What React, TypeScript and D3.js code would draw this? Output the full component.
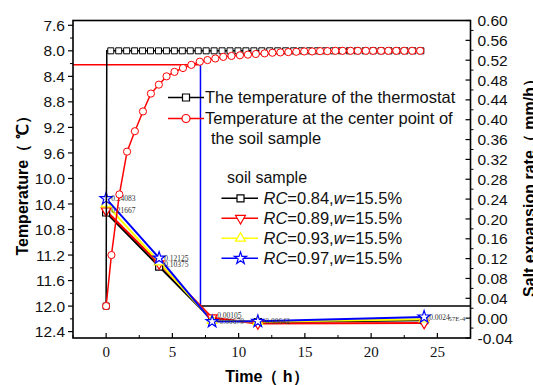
import React from "react";
import * as d3 from "d3";

// ---- data ----
const thermoTime = [0, 0.05, 0.35, 0.95, 1.55, 2.15, 2.75, 3.35, 3.95, 4.55, 5.15, 5.75, 6.35, 6.95, 7.55, 8.15, 8.75, 9.35, 9.95, 10.55, 11.15, 11.75, 12.35, 12.95, 13.55, 14.15, 14.75, 15.35, 15.95, 16.55, 17.15, 17.75, 18.35, 18.95, 19.55, 20.15, 20.75, 21.35, 21.95, 22.55, 23.15, 23.75];
const thermoTemp = [12.0, 8.0, 8.0, 8.0, 8.0, 8.0, 8.0, 8.0, 8.0, 8.0, 8.0, 8.0, 8.0, 8.0, 8.0, 8.0, 8.0, 8.0, 8.0, 8.0, 8.0, 8.0, 8.0, 8.0, 8.0, 8.0, 8.0, 8.0, 8.0, 8.0, 8.0, 8.0, 8.0, 8.0, 8.0, 8.0, 8.0, 8.0, 8.0, 8.0, 8.0, 8.0];

const centerTime = [0, 0.4, 1.0, 1.58, 2.17, 2.78, 3.38, 3.98, 4.56, 5.16, 5.8, 6.43, 7.07, 7.65, 8.24, 8.84, 9.46, 10.1, 10.7, 11.3, 11.96, 12.55, 13.15, 13.75, 14.35, 14.95, 15.55, 16.15, 16.7, 17.3, 17.85, 18.45, 19.0, 19.6, 20.15, 20.75, 21.3, 21.9, 22.5, 23.1, 23.7];
const centerTemp = [12.0, 11.2, 10.25, 9.58, 9.26, 8.95, 8.67, 8.53, 8.4, 8.33, 8.27, 8.22, 8.17, 8.145, 8.12, 8.095, 8.08, 8.07, 8.06, 8.05, 8.04, 8.03, 8.025, 8.02, 8.015, 8.01, 8.01, 8.005, 8.005, 8.0, 8.0, 8.0, 8.0, 8.0, 8.0, 8.0, 8.0, 8.0, 8.0, 8.0, 8.0];

const saltTime = [0, 4, 8, 11.45, 24];
const rc084 = [0.213, 0.104, -0.004, -0.008, -0.004];
const rc089 = [0.21667, 0.11, 0.00105, -0.011, -0.01];
const rc093 = [0.23, 0.113, -0.005, -0.007, -0.002];
const rc097 = [0.24083, 0.12125, -0.00679, -0.00642, 0.0024];

const guideTime = 7.12;
const guideTemp = [8.22, 12.0];

const leftTicks = [7.6, 8.0, 8.4, 8.8, 9.2, 9.6, 10.0, 10.4, 10.8, 11.2, 11.6, 12.0, 12.4];
const rightTicks = [-0.04, 0.0, 0.04, 0.08, 0.12, 0.16, 0.2, 0.24, 0.28, 0.32, 0.36, 0.4, 0.44, 0.48, 0.52, 0.56, 0.6];
const xTicks = [0, 5, 10, 15, 20, 25];

const legendRC = ["0.84", "0.89", "0.93", "0.97"];
const legendW = "15.5%";

// ---- layout ----
const L = 73, R = 470.5, T = 20.5, B = 338;
const x = d3.scaleLinear().domain([-2.5, 27.5]).range([L, R]);
const yL = d3.scaleLinear().domain([7.525, 12.5]).range([T, B]);
const yR = d3.scaleLinear().domain([-0.04, 0.6]).range([B, T]);

const SANS = "'Liberation Sans', Arial, sans-serif";
const SERIF = "'Liberation Serif', 'Times New Roman', serif";

const sym = (type: any, size: number) => d3.symbol().type(type).size(size)() as string;
const squarePath = sym(d3.symbolSquare, 36);
const squareBig = sym(d3.symbolSquare, 49);
const triPath = sym(d3.symbolTriangle, 42);
const starPath = sym(d3.symbolStar, 46);

function Marker({ kind, cx, cy, color }: { kind: string; cx: number; cy: number; color: string }) {
  if (kind === "square")
    return <path d={squareBig} transform={`translate(${cx},${cy})`} fill="white" stroke={color} strokeWidth={1.2} />;
  if (kind === "down")
    return <path d={triPath} transform={`translate(${cx},${cy}) rotate(180)`} fill="white" stroke={color} strokeWidth={1.2} />;
  if (kind === "up")
    return <path d={triPath} transform={`translate(${cx},${cy})`} fill="white" stroke={color} strokeWidth={1.2} />;
  return <path d={starPath} transform={`translate(${cx},${cy})`} fill="white" stroke={color} strokeWidth={1.2} />;
}

export default function App() {
  const lineT = d3.line<[number, number]>().x((d) => x(d[0])).y((d) => yL(d[1]));
  const lineR = d3.line<[number, number]>().x((d) => x(d[0])).y((d) => yR(d[1]));

  const salt = [
    { vals: rc084, color: "#000000", kind: "square" },
    { vals: rc089, color: "#ff0000", kind: "down" },
    { vals: rc093, color: "#ffff00", kind: "up" },
    { vals: rc097, color: "#0000ff", kind: "star" },
  ];

  const leftMinor = d3.range(7.8, 12.5, 0.4);
  const rightMinor = d3.range(-0.02, 0.6, 0.04);
  const xMinor = [-2.5, 2.5, 7.5, 12.5, 17.5, 22.5];

  const dataLabels = [
    { t: saltTime[0], v: rc097[0], text: "0.24083", dy: 0 },
    { t: saltTime[0], v: rc089[0], text: "0.21667", dy: 0 },
    { t: saltTime[1], v: rc097[1], text: "0.12125", dy: 0 },
    { t: saltTime[1], v: rc084[1], text: "0.10375", dy: -2.5 },
    { t: saltTime[2], v: rc089[2], text: "0.00105", dy: -2.5 },
    { t: saltTime[2], v: rc097[2], text: "-0.00679", dy: 0 },
    { t: saltTime[3], v: rc097[3], text: "-0.00642", dy: 0 },
    { t: saltTime[4], v: rc097[4], text: "0.0024", dy: 0 },
  ];

  return (
    <svg width={533} height={385} style={{ position: "absolute", left: 0, top: 0, background: "white" }}>
      <rect x={0} y={0} width={533} height={385} fill="white" />

      {/* guide lines */}
      <line x1={L} x2={x(guideTime)} y1={yL(guideTemp[0])} y2={yL(guideTemp[0])} stroke="#ff0000" strokeWidth={1.5} />
      <line x1={x(guideTime)} x2={x(guideTime)} y1={yL(guideTemp[0])} y2={yL(guideTemp[1])} stroke="#0000ff" strokeWidth={1.5} />
      <line x1={x(guideTime)} x2={R} y1={yL(guideTemp[1])} y2={yL(guideTemp[1])} stroke="#000000" strokeWidth={1.5} />

      {/* salt expansion series */}
      {salt.map((s, i) => (
        <path key={"sl" + i} d={lineR(saltTime.map((t, j) => [t, s.vals[j]] as [number, number])) as string} fill="none" stroke={s.color} strokeWidth={2} />
      ))}
      {salt.map((s, i) =>
        saltTime.map((t, j) => <Marker key={"sm" + i + "-" + j} kind={s.kind} cx={x(t)} cy={yR(s.vals[j])} color={s.color} />)
      )}
      {dataLabels.map((d, i) => (
        <text key={"dl" + i} x={x(d.t) + 5} y={yR(d.v) + d.dy} dy="0.35em" fontFamily={SERIF} fontSize={7.5} fill="#333">
          {d.text}
        </text>
      ))}
      <text x={x(24) + 24} y={yR(rc097[4]) + 2} dy="0.35em" fontFamily={SERIF} fontSize={7} fill="#333">57E-4</text>

      {/* thermostat */}
      <path d={lineT(thermoTime.map((t, i) => [t, thermoTemp[i]] as [number, number])) as string} fill="none" stroke="#000" strokeWidth={1.5} />
      {thermoTime.map((t, i) =>
        i === 1 ? null : (
          <path key={"tq" + i} d={squarePath} transform={`translate(${x(t)},${yL(thermoTemp[i])})`} fill="white" stroke="#000" strokeWidth={1} />
        )
      )}

      {/* center point */}
      <path d={lineT(centerTime.map((t, i) => [t, centerTemp[i]] as [number, number])) as string} fill="none" stroke="#ff0000" strokeWidth={1.5} />
      {centerTime.map((t, i) => (
        <circle key={"cc" + i} cx={x(t)} cy={yL(centerTemp[i])} r={3.6} fill="white" stroke="#ff0000" strokeWidth={1} />
      ))}

      {/* frame */}
      <rect x={L} y={T} width={R - L} height={B - T} fill="none" stroke="#000" strokeWidth={1.6} />

      {/* left axis */}
      {leftTicks.map((v) => (
        <g key={"lt" + v}>
          <line x1={L - 5} x2={L} y1={yL(v)} y2={yL(v)} stroke="#000" strokeWidth={1.2} />
          <text x={L - 8} y={yL(v)} dy="0.36em" textAnchor="end" fontFamily={SANS} fontSize={15.5} fill="#111">{v.toFixed(1)}</text>
        </g>
      ))}
      {leftMinor.map((v) => (
        <line key={"lm" + v} x1={L - 3} x2={L} y1={yL(v)} y2={yL(v)} stroke="#000" strokeWidth={1} />
      ))}

      {/* right axis */}
      {rightTicks.map((v) => (
        <g key={"rt" + v}>
          <line x1={R - 5} x2={R} y1={yR(v)} y2={yR(v)} stroke="#000" strokeWidth={1.2} />
          <text x={R + 7} y={yR(v)} dy="0.36em" fontFamily={SANS} fontSize={15.5} fill="#111">{Math.abs(v) < 1e-9 ? "0.00" : v.toFixed(2)}</text>
        </g>
      ))}
      {rightMinor.map((v) => (
        <line key={"rm" + v} x1={R} x2={R + 3} y1={yR(v)} y2={yR(v)} stroke="#000" strokeWidth={1} />
      ))}

      {/* bottom axis */}
      {xTicks.map((v) => (
        <g key={"xt" + v}>
          <line x1={x(v)} x2={x(v)} y1={B} y2={B - 5} stroke="#000" strokeWidth={1.2} />
          <text x={x(v)} y={357} textAnchor="middle" fontFamily={SERIF} fontSize={15} fill="#111">{v}</text>
        </g>
      ))}
      {xMinor.map((v) => (
        <line key={"xm" + v} x1={x(v)} x2={x(v)} y1={B} y2={B - 3} stroke="#000" strokeWidth={1} />
      ))}

      {/* axis titles */}
      <text transform="translate(28,182) rotate(-90)" textAnchor="middle" fontFamily={SANS} fontWeight="bold" fontSize={16} fill="#000">
        Temperature（ ℃）
      </text>
      <text transform="translate(535,184) rotate(-90)" textAnchor="middle" fontFamily={SANS} fontWeight="bold" fontSize={16} fill="#000">
        Salt expansion rate（ mm/h）
      </text>
      <text x={267} y={382} textAnchor="middle" fontFamily={SANS} fontWeight="bold" fontSize={16} fill="#000">
        Time（ h）
      </text>

      {/* legend 1 */}
      <line x1={168} x2={204} y1={97.5} y2={97.5} stroke="#000" strokeWidth={1.5} />
      <path d={squareBig} transform="translate(186,97.5)" fill="white" stroke="#000" strokeWidth={1.2} />
      <line x1={168} x2={204} y1={118.5} y2={118.5} stroke="#ff0000" strokeWidth={1.5} />
      <circle cx={186} cy={118.5} r={4} fill="white" stroke="#ff0000" strokeWidth={1.2} />
      <text x={205} y={103.3} fontFamily={SANS} fontSize={16.5} fill="#111">The temperature of the thermostat</text>
      <text x={205} y={124.3} fontFamily={SANS} fontSize={16.5} fill="#111">Temperature at the center point of</text>
      <text x={211} y={144.3} fontFamily={SANS} fontSize={16.5} fill="#111">the soil sample</text>

      {/* legend 2 */}
      <text x={227} y={182.5} fontFamily={SANS} fontSize={16} fill="#111">soil sample</text>
      {salt.map((s, i) => {
        const cy = 198.3 + i * 20;
        return (
          <g key={"lg" + i}>
            <line x1={221.5} x2={258} y1={cy} y2={cy} stroke={s.color} strokeWidth={1.5} />
            <Marker kind={s.kind} cx={240.5} cy={cy} color={s.color} />
            <text x={263.5} y={cy + 6} fontFamily={SANS} fontSize={16.5} fill="#111">
              <tspan fontStyle="italic">RC</tspan>={legendRC[i]},<tspan fontStyle="italic">w</tspan>={legendW}
            </text>
          </g>
        );
      })}
    </svg>
  );
}
